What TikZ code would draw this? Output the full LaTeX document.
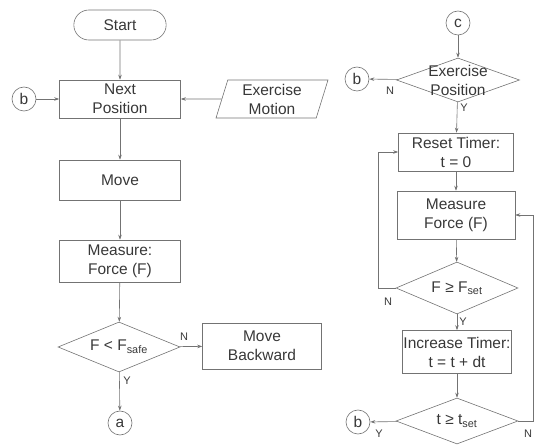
\documentclass[tikz,border=0pt]{standalone}
\usepackage{fontspec}
\setmainfont{Liberation Sans}
\usetikzlibrary{shapes.geometric,shapes.misc,arrows.meta}
\definecolor{linec}{gray}{0.45}
\definecolor{textc}{gray}{0.22}
\tikzset{
  procbox/.style={draw=linec, line width=0.6pt, rectangle, minimum width=121pt, minimum height=40pt, inner sep=1pt, align=center},
  termbox/.style={draw=linec, line width=0.6pt, rounded rectangle, minimum width=99pt, minimum height=30pt},
  iobox/.style={draw=linec, line width=0.6pt, trapezium, trapezium left angle=70, trapezium right angle=110, trapezium stretches body, minimum width=112pt, minimum height=38pt, align=center, inner sep=1pt},
  decision/.style={draw=linec, line width=0.6pt, diamond, aspect=2.4, inner sep=-4pt, minimum width=122pt, minimum height=50pt, align=center},
  joint/.style={draw=linec, line width=0.6pt, circle, minimum size=24pt, inner sep=0pt},
  yn/.style={font=\fontsize{11}{12}\selectfont, text=textc, inner sep=0pt},
  flow/.style={draw=linec, line width=0.6pt, -{Stealth[length=5pt,width=3.5pt]}}
}
\begin{document}
\begin{tikzpicture}[x=1pt, y=-1pt, every node/.append style={text=textc, font=\fontsize{15.5}{19}\selectfont}]
			%%%%% START %%%%%
			\useasboundingbox (0,0) rectangle (536,446);
			
			% left chart
			\node[termbox] (start) at (120,25) {Start};
			\node[procbox, minimum height=38pt] (next) at (120,99) {Next\\Position};
			\node[joint] (bl) at (24,99) {b};
			\node[iobox] (motion) at (272,99) {Exercise\\Motion};
			\node[procbox] (move) at (120,180) {Move};
			\node[procbox, minimum height=42pt] (meas) at (120,261) {Measure:\\Force (F)};
			\node[decision] (safe) at (119,347) {F < F\textsubscript{safe}};
			\node[procbox, minimum width=119pt, minimum height=46pt] (back) at (262,346) {Move\\Backward};
			\node[joint] (ca) at (120,423) {a};
			
			\draw[flow] (start) -- (next);
			\draw[flow] (bl) -- (next);
			\draw[flow] (motion) -- (next);
			\draw[flow] (next) -- (move);
			\draw[flow] (move) -- (meas);
			\draw[flow] (meas) -- (safe);
			\draw[flow] (safe) -- (back);
			\draw[flow] (safe) -- (ca);
			\node[yn] at (184,337) {N};
			\node[yn] at (127,381) {Y};
			
			% right chart
			\node[joint] (cc) at (458,23) {c};
			\node[decision, minimum width=123pt, minimum height=44pt] (expos) at (458,80) {Exercise\\Position};
			\node[joint] (br1) at (357,79) {b};
			\node[procbox, minimum width=115pt, minimum height=38pt] (reset) at (456,152) {Reset Timer:\\t = 0};
			\node[procbox, minimum width=118pt, minimum height=48pt] (meas2) at (456,215) {Measure\\Force (F)};
			\node[decision, minimum height=52pt] (fset) at (457,288) {F ≥ F\textsubscript{set}};
			\node[procbox, minimum width=104pt, minimum height=43pt] (inc) at (457,352) {Increase Timer:\\t = t + dt};
			\node[decision, minimum height=46pt] (tset) at (457,421) {t ≥ t\textsubscript{set}};
			\node[joint] (br2) at (358,422) {b};
			\coordinate (lx) at (378,0);
			\coordinate (rx) at (533,0);
			
			\draw[flow] (cc) -- (expos);
			\draw[flow] (expos) -- (br1);
			\draw[flow] (expos) -- (reset);
			\draw[flow] (reset) -- (meas2);
			\draw[flow] (meas2) -- (fset);
			\draw[flow] (fset.west) -- (fset.west -| lx) |- (reset.west);
			\draw[flow] (fset) -- (inc);
			\draw[flow] (inc) -- (tset);
			\draw[flow] (tset) -- (br2);
			\draw[flow] (tset.east) -- (tset.east -| rx) |- (meas2.east);
			\node[yn] at (390,91) {N};
			\node[yn] at (464,108) {Y};
			\node[yn] at (388,302) {N};
			\node[yn] at (463,322) {Y};
			\node[yn] at (379,434) {Y};
			\node[yn] at (528,434) {N};
			
			%%%%% END %%%%%
		\end{tikzpicture}
\end{document}
